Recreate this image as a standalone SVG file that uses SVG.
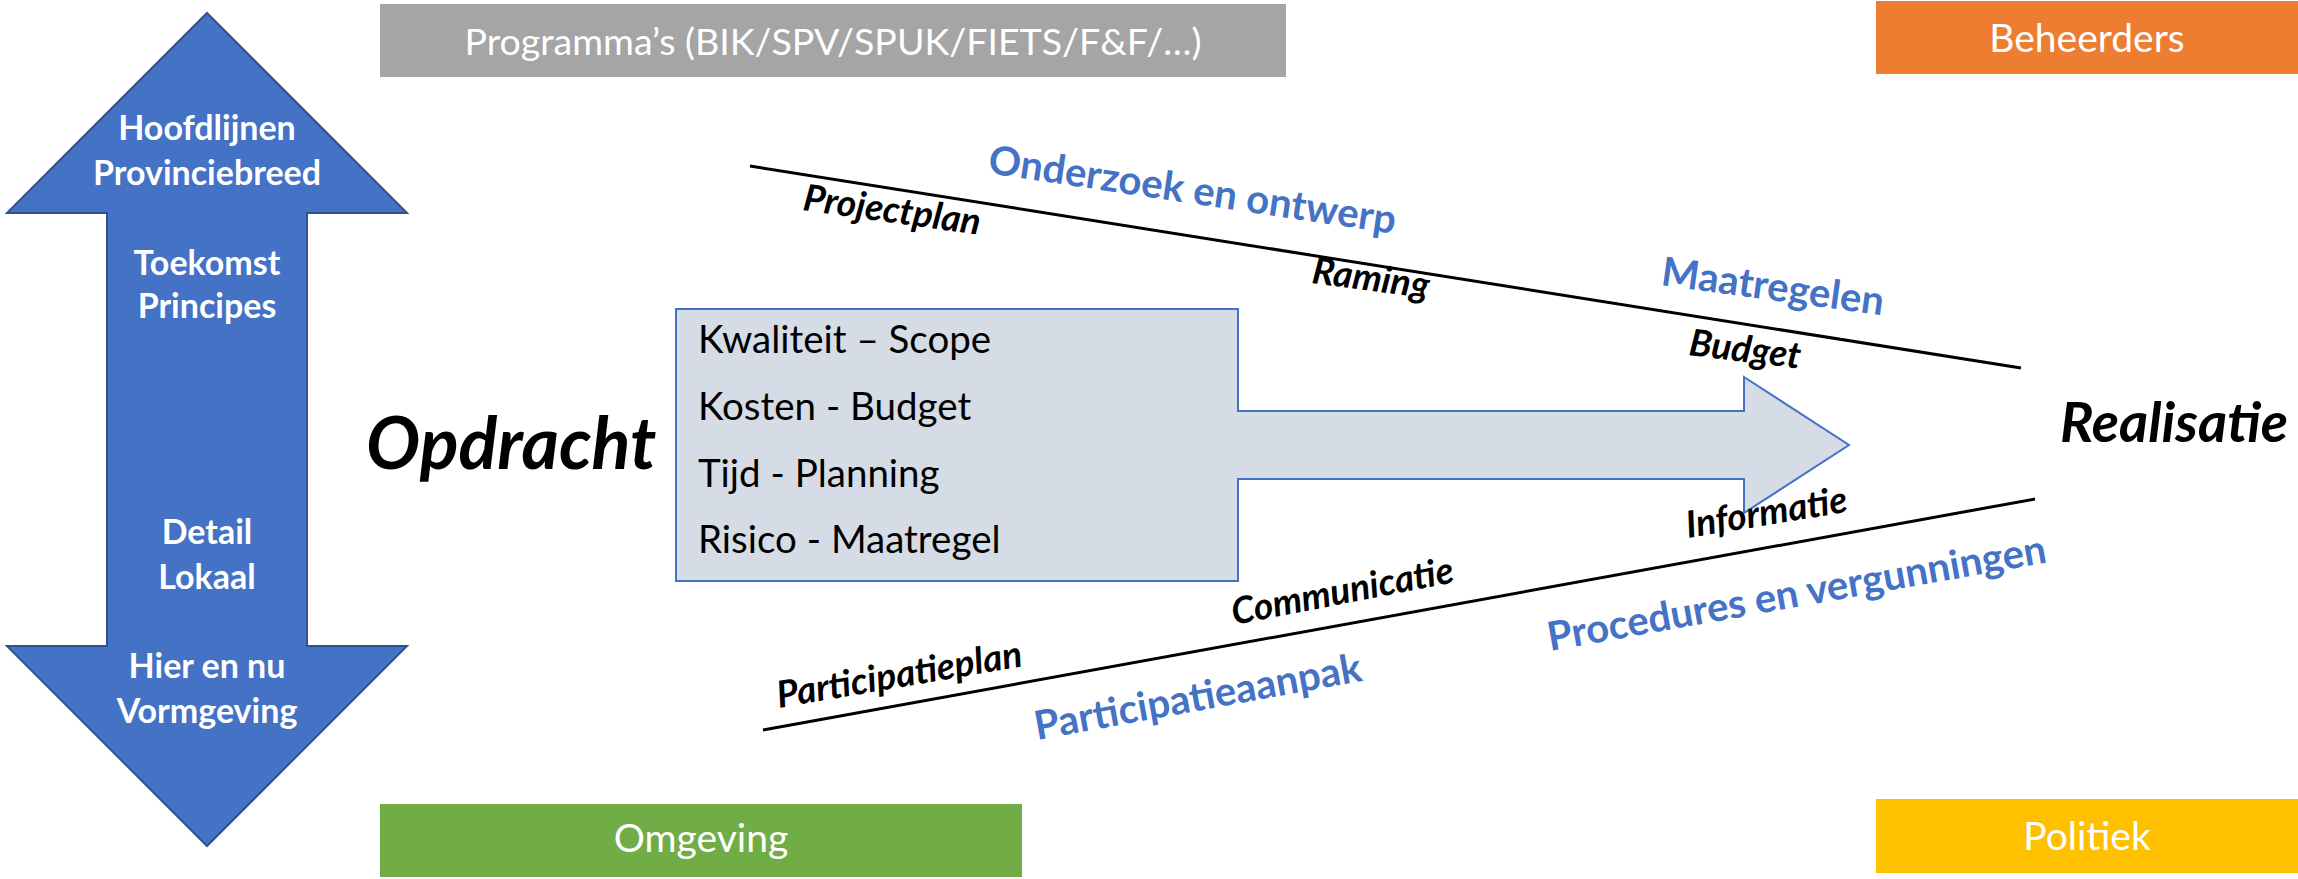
<svg xmlns="http://www.w3.org/2000/svg" width="2298" height="879" viewBox="0 0 2298 879">
<style>
text { font-family: Lato, "Open Sans", "Liberation Sans", sans-serif; }
.box-t { fill: #ffffff; font-size: 39px; text-anchor: middle; }
.arr-t { fill: #ffffff; font-size: 34px; font-weight: bold; text-anchor: middle; }
.in-t { fill: #000000; font-size: 38.5px; }
.blue { fill: #4472C4; font-size: 40px; font-weight: bold; }
.blk { fill: #000000; font-size: 37px; font-weight: bold; font-style: italic; }
.big { fill: #000000; font-weight: bold; font-style: italic; }
.line { stroke: #000000; stroke-width: 3; fill: none; }
</style>
<rect width="2298" height="879" fill="#ffffff"/>

<g id="programmas">
  <rect x="380" y="4" width="906" height="73" fill="#A5A5A5"/>
  <text class="box-t" x="833" y="55" style="font-size:37.5px">Programma’s (BIK/SPV/SPUK/FIETS/F&amp;F/…)</text>
</g>
<g id="beheerders">
  <rect x="1876" y="1" width="422" height="73" fill="#ED7D31"/>
  <text class="box-t" x="2087" y="52">Beheerders</text>
</g>
<g id="omgeving">
  <rect x="380" y="804" width="642" height="73" fill="#70AD47"/>
  <text class="box-t" x="701" y="852">Omgeving</text>
</g>
<g id="politiek">
  <rect x="1876" y="799" width="422" height="74" fill="#FFC000"/>
  <text class="box-t" x="2087" y="850">Politiek</text>
</g>

<g id="schaal-pijl">
  <path d="M207,13 L407,213 L307,213 L307,646 L407,646 L207,846 L7,646 L107,646 L107,213 L7,213 Z" fill="#4472C4" stroke="#2F528F" stroke-width="2"/>
  <text class="arr-t" x="207" y="140">Hoofdlijnen</text>
  <text class="arr-t" x="207" y="185">Provinciebreed</text>
  <text class="arr-t" x="207" y="275">Toekomst</text>
  <text class="arr-t" x="207" y="318">Principes</text>
  <text class="arr-t" x="207" y="544">Detail</text>
  <text class="arr-t" x="207" y="589">Lokaal</text>
  <text class="arr-t" x="207" y="678">Hier en nu</text>
  <text class="arr-t" x="207" y="723">Vormgeving</text>
</g>

<g id="opdracht">
  <text class="big" x="366" y="469" font-size="72">Opdracht</text>
</g>
<g id="realisatie">
  <text class="big" x="2060" y="442" font-size="56">Realisatie</text>
</g>

<g id="project-pijl">
  <path d="M676,309 L1238,309 L1238,411 L1744,411 L1744,377 L1849,445 L1744,513 L1744,479 L1238,479 L1238,581 L676,581 Z" fill="#D6DCE5" stroke="#4472C4" stroke-width="2"/>
  <text class="in-t" x="698" y="353">Kwaliteit – Scope</text>
  <text class="in-t" x="698" y="420">Kosten - Budget</text>
  <text class="in-t" x="698" y="487">Tijd - Planning</text>
  <text class="in-t" x="698" y="553">Risico - Maatregel</text>
</g>

<g id="connectors">
  <line class="line" x1="750" y1="166" x2="2021" y2="368"/>
  <line class="line" x1="763" y1="730" x2="2035" y2="499"/>
</g>

<g id="labels-boven">
  <text class="blue" transform="translate(987,173) rotate(8.5)">Onderzoek en ontwerp</text>
  <text class="blue" transform="translate(1660,285) rotate(7.8)">Maatregelen</text>
  <text class="blk" transform="translate(802,210) rotate(8)">Projectplan</text>
  <text class="blk" transform="translate(1311,283) rotate(7.5)">Raming</text>
  <text class="blk" transform="translate(1688,355) rotate(7)">Budget</text>
</g>
<g id="labels-onder">
  <text class="blk" transform="translate(779,708) rotate(-9.7)">Participatieplan</text>
  <text class="blk" transform="translate(1234,625) rotate(-11)">Communicatie</text>
  <text class="blk" transform="translate(1688,538) rotate(-9.3)">Informatie</text>
  <text class="blue" transform="translate(1037,740) rotate(-10.3)">Participatieaanpak</text>
  <text class="blue" transform="translate(1550,651) rotate(-10.1)">Procedures en vergunningen</text>
</g>
</svg>
